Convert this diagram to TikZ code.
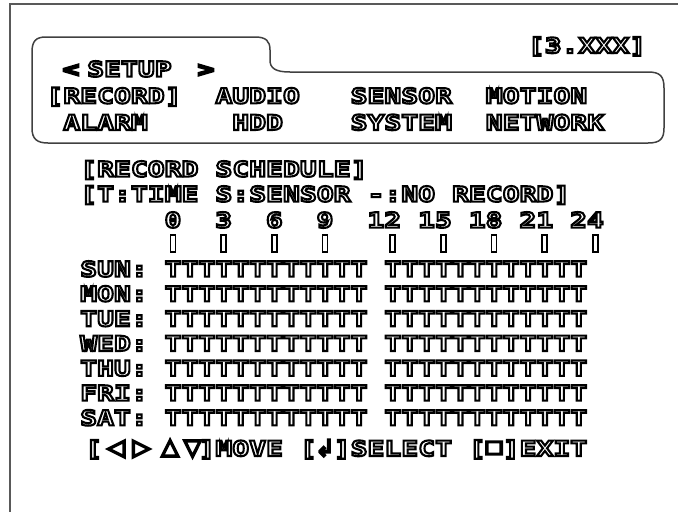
\documentclass[tikz,border=0pt]{standalone}
\usepackage{fontspec}
\usepackage{tikz}
\newfontfamily\osdfont{DejaVu Sans Mono}[FakeStretch=1.337]
\newfontfamily\osdsymfont{DejaVu Sans}
% hollow glyphs: only the outline is stroked
\newcommand\hollowon{\special{pdf:literal direct 1 Tr 2.1 w}}
\newcommand\hollowoff{\special{pdf:literal direct 0 Tr}}

\begin{document}
\begin{tikzpicture}
[x=1pt, y=-1pt,
osd/.style={anchor=base west, inner sep=0pt, font=\osdfont\bfseries\fontsize{21}{21}\selectfont, execute at begin node=\hollowon, execute at end node=\hollowoff},
osdmid/.style={osd, anchor=base},
keysym/.style={osd, anchor=center, font=\osdsymfont\fontsize{23}{23}\selectfont},
screenline/.style={draw=black!65, line width=1.2pt},
tabshape/.style={draw=black!75, line width=1.5pt},
tickmark/.style={draw=black, line width=1.6pt},
cellgrid/.style={shift={(46.2,0)}, x=16.9pt}]
    \useasboundingbox (0,0) rectangle (678,512);
    \draw[screenline] (678,4) -- (10,4) -- (10,512);

    % menu tab
    \draw[tabshape] (46,37) -- (255,37) .. controls (266,37) and (270,41) .. (270,50) -- (270,60) .. controls (270,68) and (275,72) .. (290,72) -- (648,72) .. controls (660,72) and (664,76) .. (664,88) -- (664,128) .. controls (664,139) and (660,143) .. (648,143) -- (48,143) .. controls (37,143) and (32,139) .. (32,128) -- (32,52) .. controls (32,41) and (36,37) .. (46,37) -- cycle;

    \node (version) [osdmid] at (587,53) {[3.XXX]};
    \node (prev) [osdmid] at (71,76.6) {<};
    \node (setup) [osd] at (87,76.6) {SETUP};
    \node (next) [osdmid] at (206,76.6) {>};

    \begin{scope}[cellgrid]
    \node (record) [osd] at (0,103.4) {[RECORD]};
    \node (audio) [osd] at (10,103.4) {AUDIO};
    \node (sensor) [osd] at (18,103.4) {SENSOR};
    \node (motion) [osd] at (26,103.4) {MOTION};
    \node (alarm) [osd] at (1,130) {ALARM};
    \node (hdd) [osd] at (11,130) {HDD};
    \node (system) [osd] at (18,130) {SYSTEM};
    \node (network) [osd] at (26,130) {NETWORK};

    % schedule
    \node (title) [osd] at (2,176.6) {[RECORD SCHEDULE]};
    \node (legend) [osd] at (2,201.6) {[T:TIME S:SENSOR -:NO RECORD]};
    \foreach \h/\c in {0/7.5,3/10.5,6/13.5,9/16.5,12/20,15/23,18/26,21/29,24/32}
        \node (hour\h) [osdmid] at (\c,227.6) {\h};
    \foreach \c in {7.5,10.5,13.5,16.5,20.5,23.5,26.5,29.5,32.5}
        \draw[tickmark] ({\c-0.15},235) rectangle ({\c+0.15},252);
    \foreach \d [count=\i from 0] in {SUN,MON,TUE,WED,THU,FRI,SAT}{
        \node (day\i) [osd] at (2,{276.6+24.8*\i}) {\d:};
        \node (slots\i) [osd] at (7,{276.6+24.8*\i}) {TTTTTTTTTTTT TTTTTTTTTTTT};
    }

    % key help
    \node (open) [osd] at (2.3,456) {[};
    \node (left) [keysym] at (4.13,449) {◁};
    \node (right) [keysym] at (5.64,449) {▷};
    \node (up) [keysym] at (7.33,448) {△};
    \node (down) [keysym] at (8.66,449) {▽};
    \node (move) [osd] at (9,456) {]MOVE [};
    \node (enter) [keysym] at (16.5,448) {↲};
    \node (select) [osd] at (17,456) {]SELECT [};
    \node (stop) [keysym, font=\osdsymfont\fontsize{17}{17}\selectfont, xscale=1.2, transform shape] at (26.5,448) {□};
    \node (exit) [osd] at (27,456) {]EXIT};
    \end{scope}
\end{tikzpicture}
\end{document}
